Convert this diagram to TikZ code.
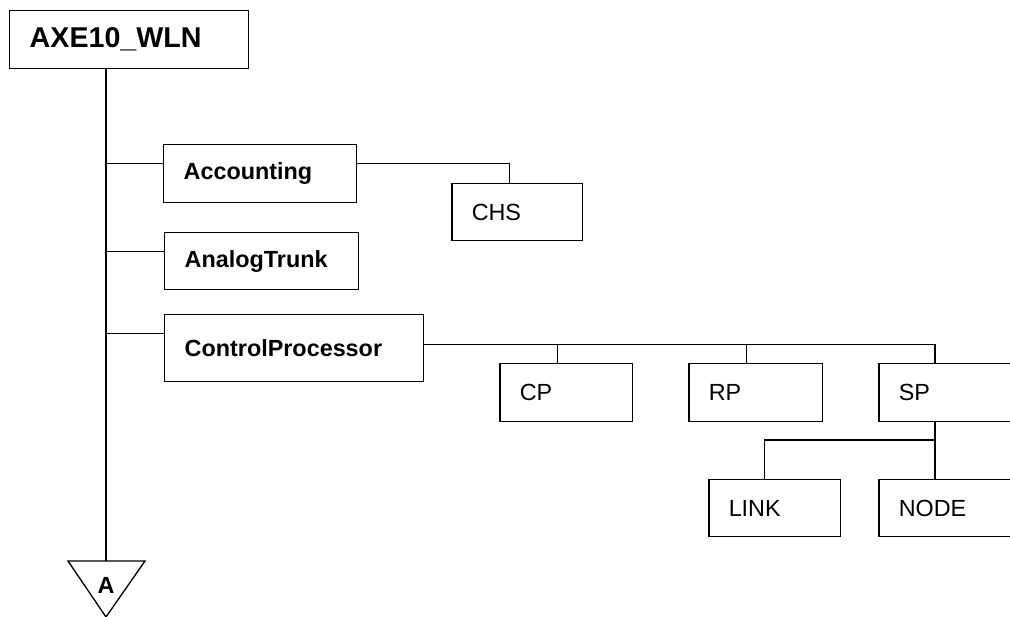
\documentclass[tikz,border=0pt]{standalone}
\usepackage{fontspec}
\setmainfont{Liberation Sans}
\begin{document}
\begin{tikzpicture}[x=0.02cm, y=-0.02cm]
	\tikzset{boite/.style={draw, rectangle, anchor=north west, line width=0.85pt, inner xsep=0.4cm, inner ysep=0pt, align=left, font=\fontsize{13.3}{16}\selectfont}, gras/.style={font=\fontsize{13.3}{16}\selectfont\bfseries}, lien/.style={line width=0.75pt}};

	\useasboundingbox (0,0) rectangle (1010,617);

	\node[boite, font=\fontsize{16.3}{19}\selectfont\bfseries, text width=3.98cm, minimum height=1.16cm] (axe) at (  9,  10) {AXE10\_WLN};
	\node[boite, gras, text width=3.06cm, minimum height=1.16cm] (acc) at (163, 144) {Accounting};
	\node[boite, text width=1.82cm, minimum height=1.14cm] (chs) at (451, 183) {CHS};
	\node[boite, gras, text width=3.08cm, minimum height=1.14cm] (ana) at (164, 232) {AnalogTrunk};
	\node[boite, gras, text width=4.38cm, minimum height=1.34cm] (ctl) at (164, 314) {ControlProcessor};
	\node[boite, text width=1.86cm, minimum height=1.16cm] (cp) at (499, 363) {CP};
	\node[boite, text width=1.88cm, minimum height=1.16cm] (rp) at (688, 363) {RP};
	\node[boite, text width=2.00cm, minimum height=1.16cm] (sp) at (878, 363) {SP};
	\node[boite, text width=1.84cm, minimum height=1.14cm] (link) at (708, 479) {LINK};
	\node[boite, text width=2.00cm, minimum height=1.14cm] (node) at (878, 479) {NODE};

	\coordinate (tri) at (106, 561);
	\coordinate (spj) at (935, 440);
	\draw[lien] ([xshift=-0.76cm]tri) -- ([xshift=0.78cm]tri) -- ([yshift=-1.12cm]tri) -- cycle;
	\node[gras] (a) at (106, 585) {A};

	\draw[lien] (axe.south -| tri) -- (tri);
	\draw[lien] ([yshift=0.2cm]acc.west) -- ([yshift=0.2cm]acc.west -| tri);
	\draw[lien] ([yshift=0.19cm]ana.west) -- ([yshift=0.19cm]ana.west -| tri);
	\draw[lien] ([yshift=0.29cm]ctl.west) -- ([yshift=0.29cm]ctl.west -| tri);

	\draw[lien] ([yshift=0.2cm]acc.east) -| ([xshift=-0.15cm]chs.north);

	\draw[lien] ([yshift=0.07cm]ctl.east) -| ([xshift=1.14cm]sp.north west);
	\draw[lien] ([xshift=-0.17cm]cp.north) -- ([xshift=-0.17cm,yshift=0.07cm]cp.north |- ctl.east);
	\draw[lien] ([xshift=-0.18cm]rp.north) -- ([xshift=-0.18cm,yshift=0.07cm]rp.north |- ctl.east);

	\draw[lien] ([xshift=1.14cm]sp.south west) -- ([xshift=1.14cm]node.north west);
	\draw[lien] (spj) -| ([xshift=-0.2cm]link.north);
\end{tikzpicture}
\end{document}
